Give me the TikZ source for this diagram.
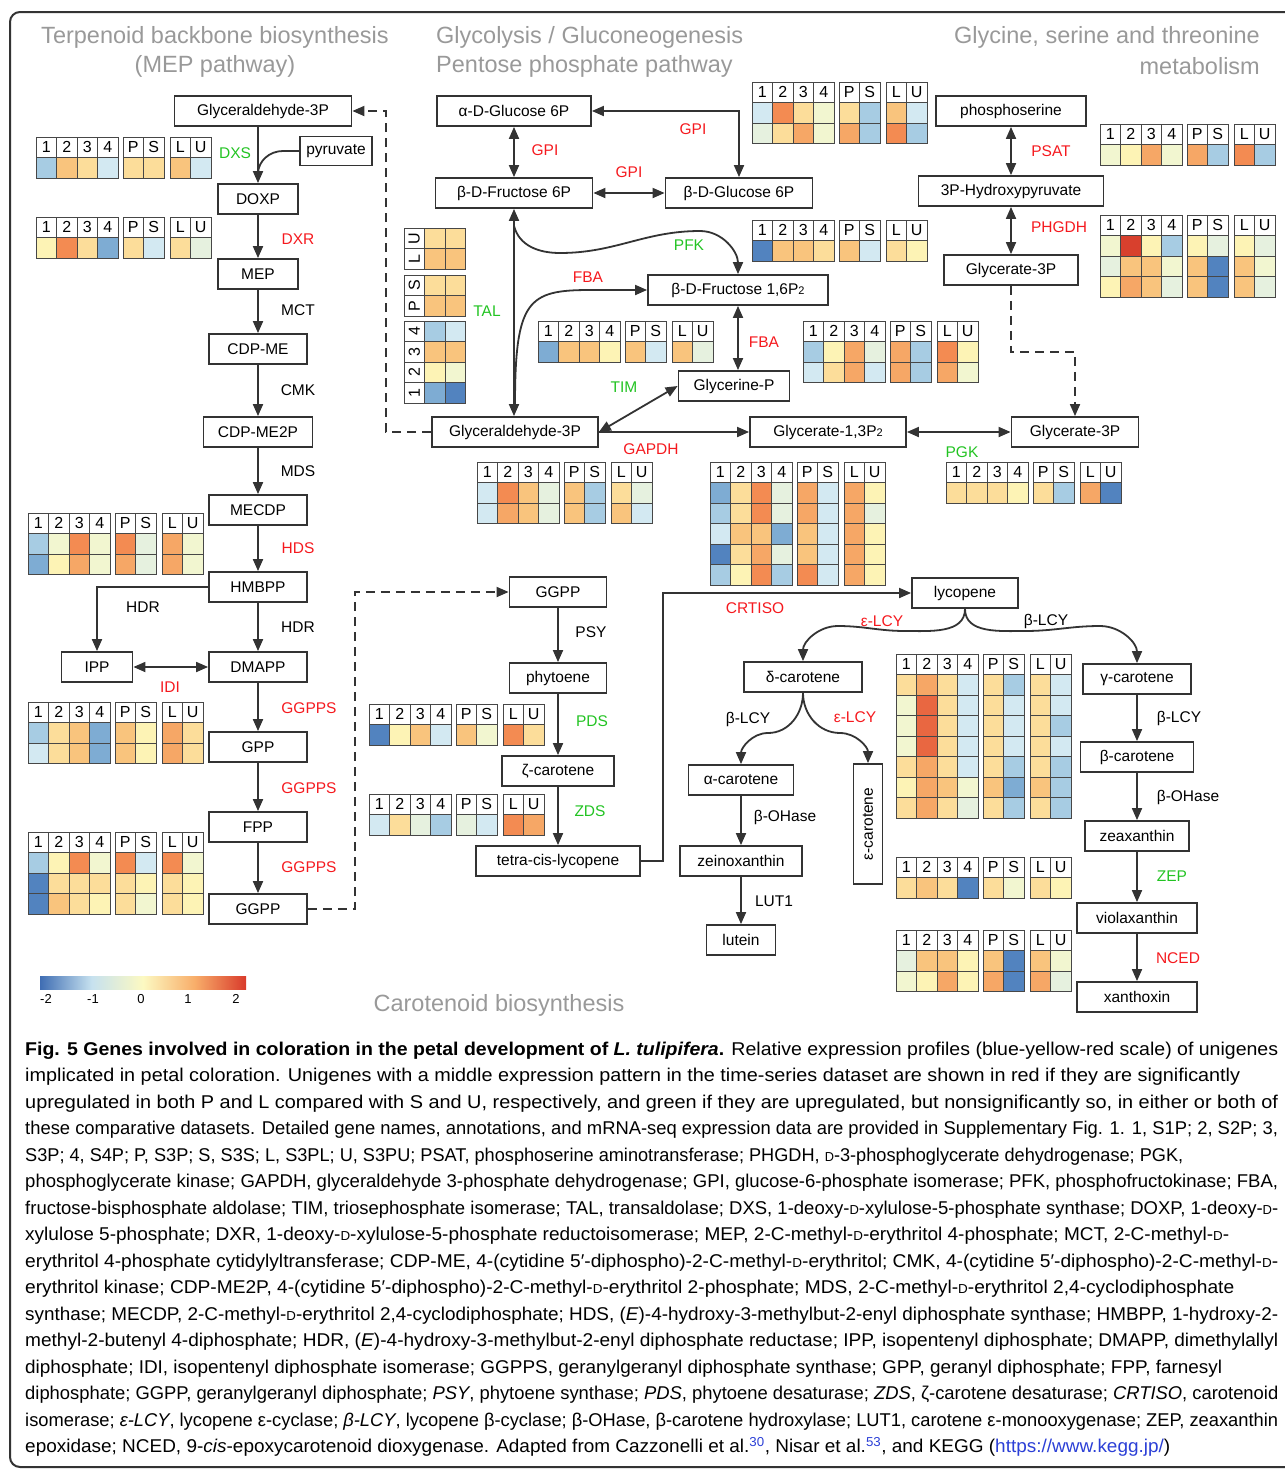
\documentclass[tikz,border=0pt]{standalone}
\usepackage{fontspec}
\setmainfont{Liberation Sans}
\usepackage{graphicx}
\usetikzlibrary{arrows.meta}

\definecolor{colorLine}{HTML}{333333}
\definecolor{colorGrid}{HTML}{474747}
\definecolor{colorTitle}{HTML}{999999}
\definecolor{colorRed}{HTML}{F5191E}
\definecolor{colorGreen}{HTML}{22C322}
\definecolor{colorLink}{HTML}{2B3FD6}
% heat map palette
\definecolor{hmb3}{HTML}{5283BF}
\definecolor{hmb2}{HTML}{7EACD3}
\definecolor{hmb1}{HTML}{A7CCE3}
\definecolor{hmb0}{HTML}{D3E9F2}
\definecolor{hmg0}{HTML}{E6F1DF}
\definecolor{hmy0}{HTML}{F2F6D0}
\definecolor{hmy1}{HTML}{FDF3B5}
\definecolor{hmy2}{HTML}{FCDD9A}
\definecolor{hmo1}{HTML}{F9C47D}
\definecolor{hmo2}{HTML}{F6A766}
\definecolor{hmo3}{HTML}{F38B52}
\definecolor{hmr1}{HTML}{E96741}
\definecolor{hmr2}{HTML}{D8402D}
\definecolor{barA}{HTML}{3F6DB3}
\definecolor{barB}{HTML}{C6E1EF}
\definecolor{barC}{HTML}{FCF9C2}
\definecolor{barD}{HTML}{F8AE6A}
\definecolor{barE}{HTML}{D93A2B}
\pgfdeclarehorizontalshading{heatbar}{100bp}{color(0bp)=(barA); color(25bp)=(barA); color(37.5bp)=(barB); color(50bp)=(barC); color(62.5bp)=(barD); color(75bp)=(barE); color(100bp)=(barE)}

\tikzset{
  metab/.style={draw=colorLine, line width=1.8pt, fill=white, minimum height=30pt, inner sep=2pt, font=\fontsize{15.5}{18}\selectfont},
  enzyme/.style={font=\fontsize{15.5}{18}\selectfont, inner sep=0pt},
  enzRed/.style={enzyme, text=colorRed},
  enzGreen/.style={enzyme, text=colorGreen},
  pathtitle/.style={font=\fontsize{23.5}{26}\selectfont, text=colorTitle, inner sep=0pt},
  link/.style={draw=colorLine, line width=1.8pt},
  dashlink/.style={link, dash pattern=on 9pt off 6pt},
  hmcell/.style={draw=colorGrid, line width=0.9pt},
  hmhead/.style={font=\fontsize{16}{16}\selectfont, inner sep=0pt},
  capline/.style={anchor=base west, inner sep=0pt, font=\fontsize{18.5}{20}\selectfont},
}

\newcommand{\dsc}{{\fontsize{13}{13}\selectfont D}}
\newcommand{\fitline}[2]{\resizebox{#1pt}{\height}{#2}}
% heat map: header 1 2 3 4 | P S | L U, then one row per list
\newcommand{\drawheatmap}[2]{%
  \foreach \hd [count=\k] in {1,2,3,4,P,S,L,U}{
    \pgfmathsetmacro{\hx}{(\k-1)*20.5+5*(\k>4)+6*(\k>6)}
    \draw[hmcell, fill=white] (\hx,0) rectangle ++(20.5,20.5);
    \node[hmhead] (#1-h\k) at (\hx+10.25,10.25) {\hd};
  }
  \foreach \row [count=\r] in {#2}{
    \foreach \c [count=\k] in \row {
      \pgfmathsetmacro{\hx}{(\k-1)*20.5+5*(\k>4)+6*(\k>6)}
      \draw[hmcell, fill=hm\c] (\hx,\r*20.5) rectangle ++(20.5,20.5);
    }
  }
}

\begin{document}
\begin{tikzpicture}[x=1pt, y=-1pt, >={Triangle[length=12pt,width=10pt]}]
\useasboundingbox (0,0) rectangle (1285,1470);
\draw[colorLine, line width=2pt, rounded corners=10pt] (1300,12) -- (10,12) -- (10,1467) -- (1300,1467);

% pathway titles
\node[pathtitle] (tTerp) at (215,37) {Terpenoid backbone biosynthesis};
\node[pathtitle] (tMEP) at (215,66) {(MEP pathway)};
\node[pathtitle, anchor=west] (tGly) at (436,37) {Glycolysis / Gluconeogenesis};
\node[pathtitle, anchor=west] (tPPP) at (436,66) {Pentose phosphate pathway};
\node[pathtitle, anchor=east] (tGST) at (1260,37) {Glycine, serine and threonine};
\node[pathtitle, anchor=east] (tMet) at (1260,66) {metabolism};
\node[pathtitle] (tCar) at (499,1005) {Carotenoid biosynthesis};

% MEP pathway
\node[metab, minimum width=177] (ga3pTop) at (263,111) {Glyceraldehyde-3P};
\node[metab, minimum width=72, minimum height=29] (pyruvate) at (336,151) {pyruvate};
\node[metab, minimum width=80] (doxp) at (258,199) {DOXP};
\node[metab, minimum width=80] (mep) at (258,274) {MEP};
\node[metab, minimum width=98] (cdpme) at (258,349) {CDP-ME};
\node[metab, minimum width=109] (cdpme2p) at (258,432) {CDP-ME2P};
\node[metab, minimum width=98] (mecdp) at (258,510) {MECDP};
\node[metab, minimum width=98] (hmbpp) at (258,587) {HMBPP};
\node[metab, minimum width=71] (ipp) at (97,667) {IPP};
\node[metab, minimum width=98] (dmapp) at (258,667) {DMAPP};
\node[metab, minimum width=98] (gpp) at (258,747) {GPP};
\node[metab, minimum width=98] (fpp) at (258,827) {FPP};
\node[metab, minimum width=98] (ggppL) at (258,909) {GGPP};

% glycolysis / pentose phosphate
\node[metab, minimum width=154] (aG6P) at (514,111) {α-D-Glucose 6P};
\node[metab, minimum width=157] (bF6P) at (514,193) {β-D-Fructose 6P};
\node[metab, minimum width=147] (bG6P) at (739,193) {β-D-Glucose 6P};
\node[metab, minimum width=180] (f16p) at (738,290) {β-D-Fructose 1,6P{\fontsize{11}{11}\selectfont 2}};
\node[metab, minimum width=111] (glyP) at (734,386) {Glycerine-P};
\node[metab, minimum width=166] (ga3p) at (515,432) {Glyceraldehyde-3P};
\node[metab, minimum width=156] (g13p) at (828,432) {Glycerate-1,3P{\fontsize{11}{11}\selectfont 2}};
\node[metab, minimum width=127] (g3pB) at (1075,432) {Glycerate-3P};

% glycine, serine, threonine
\node[metab, minimum width=150] (pSer) at (1011,111) {phosphoserine};
\node[metab, minimum width=185] (hpyr) at (1011,191) {3P-Hydroxypyruvate};
\node[metab, minimum width=134] (g3pA) at (1011,270) {Glycerate-3P};

% carotenoids
\node[metab, minimum width=97] (ggppR) at (558,592) {GGPP};
\node[metab, minimum width=97] (phytoene) at (558,678) {phytoene};
\node[metab, minimum width=112] (zeta) at (558,771) {ζ-carotene};
\node[metab, minimum width=164] (tetra) at (558,861) {tetra-cis-lycopene};
\node[metab, minimum width=106] (lycopene) at (965,593) {lycopene};
\node[metab, minimum width=118] (delta) at (803,677) {δ-carotene};
\node[metab, minimum width=108] (gamma) at (1137,679) {γ-carotene};
\node[metab, minimum width=105] (alpha) at (741,780) {α-carotene};
\node[metab, minimum width=29, minimum height=120, inner sep=0pt] (epsCar) at (868,824) {\rotatebox{90}{ε-carotene}};
\node[metab, minimum width=113] (betaCar) at (1137,757) {β-carotene};
\node[metab, minimum width=122] (zeino) at (741,861) {zeinoxanthin};
\node[metab, minimum width=104] (zeax) at (1137,836) {zeaxanthin};
\node[metab, minimum width=69] (lutein) at (741,940) {lutein};
\node[metab, minimum width=120] (viola) at (1137,918) {violaxanthin};
\node[metab, minimum width=120] (xanthoxin) at (1137,997) {xanthoxin};

% enzyme labels
\node[enzGreen] (lDXS) at (235,153) {DXS};
\node[enzRed] (lDXR) at (298,239) {DXR};
\node[enzyme] (lMCT) at (298,310) {MCT};
\node[enzyme] (lCMK) at (298,390) {CMK};
\node[enzyme] (lMDS) at (298,471) {MDS};
\node[enzRed] (lHDS) at (298,548) {HDS};
\node[enzyme] (lHDRa) at (143,607) {HDR};
\node[enzyme] (lHDRb) at (298,627) {HDR};
\node[enzRed] (lIDI) at (170,687) {IDI};
\node[enzRed] (lGGPPSa) at (309,708) {GGPPS};
\node[enzRed] (lGGPPSb) at (309,788) {GGPPS};
\node[enzRed] (lGGPPSc) at (309,867) {GGPPS};
\node[enzRed] (lGPIa) at (545,150) {GPI};
\node[enzRed] (lGPIb) at (629,172) {GPI};
\node[enzRed] (lGPIc) at (693,129) {GPI};
\node[enzGreen] (lPFK) at (689,245) {PFK};
\node[enzRed] (lFBAa) at (588,277) {FBA};
\node[enzRed] (lFBAb) at (764,342) {FBA};
\node[enzGreen] (lTAL) at (487,311) {TAL};
\node[enzGreen] (lTIM) at (624,387) {TIM};
\node[enzRed] (lGAPDH) at (651,449) {GAPDH};
\node[enzGreen] (lPGK) at (962,452) {PGK};
\node[enzRed] (lPSAT) at (1051,151) {PSAT};
\node[enzRed] (lPHGDH) at (1059,227) {PHGDH};
\node[enzyme] (lPSY) at (591,632) {PSY};
\node[enzGreen] (lPDS) at (592,721) {PDS};
\node[enzGreen] (lZDS) at (590,811) {ZDS};
\node[enzRed] (lCRTISO) at (755,608) {CRTISO};
\node[enzRed] (lELCYa) at (882,621) {ε-LCY};
\node[enzyme] (lBLCYa) at (1046,621) {β-LCY};
\node[enzyme] (lBLCYb) at (748,719) {β-LCY};
\node[enzRed] (lELCYb) at (855,717) {ε-LCY};
\node[enzyme] (lBLCYc) at (1179,718) {β-LCY};
\node[enzyme] (lBOHa) at (785,817) {β-OHase};
\node[enzyme] (lBOHb) at (1188,797) {β-OHase};
\node[enzyme] (lLUT) at (774,901) {LUT1};
\node[enzGreen] (lZEP) at (1172,876) {ZEP};
\node[enzRed] (lNCED) at (1178,958) {NCED};

% MEP connectors
\draw[link,->] (doxp.north |- ga3pTop.south) -- (doxp.north);
\draw[link] (pyruvate.west) -- (283,151) to[out=180,in=90] (258,174);
\draw[link,->] (doxp) -- (mep);
\draw[link,->] (mep) -- (cdpme);
\draw[link,->] (cdpme) -- (cdpme2p);
\draw[link,->] (cdpme2p) -- (mecdp);
\draw[link,->] (mecdp) -- (hmbpp);
\draw[link,->] (hmbpp.west) -| (ipp.north);
\draw[link,->] (hmbpp) -- (dmapp);
\draw[link,<->] (ipp) -- (dmapp);
\draw[link,->] (dmapp) -- (gpp);
\draw[link,->] (gpp) -- (fpp);
\draw[link,->] (fpp) -- (ggppL);
\draw[dashlink,->] (ga3p.west) -- ++(-45,0) |- (ga3pTop.east);
\draw[dashlink,->] (ggppL.east) -- ++(47,0) |- (ggppR.west);

% glycolysis connectors
\coordinate (pfkStart) at (514,226);
\coordinate (fbaStart) at (515,405);
\draw[link,<->] (aG6P) -- (bF6P);
\draw[link,<->] (bF6P) -- (bG6P);
\draw[link,<->] (aG6P.east) -| (bG6P.north);
\draw[link,<->] (bF6P.south) -- (bF6P.south |- ga3p.north);
\draw[link,->] (pfkStart) to[out=-75,in=180] (560,253) to[out=0,in=180] (700,231) to[out=0,in=90] (f16p.north);
\draw[link,->] (fbaStart) .. controls (515,300) and (528,290) .. (590,290) -- (f16p.west);
\draw[link,<->] (f16p.south) -- (f16p.south |- glyP.north);
\draw[link,<->] (ga3p.east) -- (glyP.west);
\draw[link,->] (ga3p) -- (g13p);
\draw[link,<->] (g13p) -- (g3pB);

% glycine connectors
\draw[link,<->] (pSer) -- (hpyr);
\draw[link,<->] (hpyr) -- (g3pA);
\draw[dashlink,->] (g3pA.south) -- ++(0,66) -| (g3pB.north);

% carotenoid connectors
\draw[link,->] (ggppR) -- (phytoene);
\draw[link,->] (phytoene) -- (zeta);
\draw[link,->] (zeta) -- (tetra);
\draw[link,->] (tetra.east) -- ++(22,0) |- (lycopene.west);
\draw[link,->] (lycopene.south) to[out=-90,in=0] (905,631) to[out=180,in=0] (838,626) to[out=180,in=90] (delta.north);
\draw[link,->] (lycopene.south) to[out=-90,in=180] (1025,631) to[out=0,in=180] (1100,626) to[out=0,in=90] (gamma.north);
\draw[link,->] (delta.south) to[out=-90,in=0] (768,733) to[out=180,in=90] (alpha.north);
\draw[link,->] (delta.south) to[out=-90,in=180] (840,733) to[out=0,in=90] (epsCar.north);
\draw[link,->] (alpha) -- (zeino);
\draw[link,->] (zeino) -- (lutein);
\draw[link,->] (gamma) -- (betaCar);
\draw[link,->] (betaCar) -- (zeax);
\draw[link,->] (zeax) -- (viola);
\draw[link,->] (viola) -- (xanthoxin);

% heat maps
\begin{scope}[shift={(36,137)}]\drawheatmap{hmDXS}{{b1,o1,y2,b0,y2,y2,o1,b0}}\end{scope}
\begin{scope}[shift={(36,217)}]\drawheatmap{hmDXR}{{y1,o3,y2,b2,y2,b0,y2,g0}}\end{scope}
\begin{scope}[shift={(752,82)}]\drawheatmap{hmGPI}{{b0,o3,y2,y0,y2,b1,o1,b0},{g0,y2,o2,y0,o2,b1,o3,b1}}\end{scope}
\begin{scope}[shift={(1100,124)}]\drawheatmap{hmPSAT}{{y0,y1,o2,y0,o2,b1,o3,b1}}\end{scope}
\begin{scope}[shift={(752,220)}]\drawheatmap{hmPFK}{{b3,o1,o1,y2,o1,b0,y2,y1}}\end{scope}
\begin{scope}[shift={(1100,215)}]\drawheatmap{hmPHGDH}{{y0,r2,y1,b1,y1,g0,y1,g0},{g0,o1,o1,y0,o1,b3,o1,y0},{y1,o2,o1,g0,o1,b3,o1,g0}}\end{scope}
\begin{scope}[shift={(538,321)}]\drawheatmap{hmFBAa}{{b2,o1,o1,y1,o1,b0,o1,g0}}\end{scope}
\begin{scope}[shift={(803,321)}]\drawheatmap{hmFBAb}{{b1,y1,o2,g0,o2,b1,o3,y1},{b0,y2,o2,b0,o2,b1,o2,y0}}\end{scope}
\begin{scope}[shift={(477,462)}]\drawheatmap{hmGAPDH}{{b0,o3,o1,g0,o1,b1,y2,g0},{b0,o2,o1,g0,o1,b1,o1,b0}}\end{scope}
\begin{scope}[shift={(710,462)}]\drawheatmap{hmG13}{{b2,y2,o3,g0,o2,b0,o2,y1},{b1,y2,o3,g0,o2,b0,o2,g0},{b0,o1,o1,b2,o1,b0,o2,y1},{b3,y2,o2,g0,o1,b0,o2,y1},{b1,y1,o3,b1,o3,b0,o2,y1}}\end{scope}
\begin{scope}[shift={(946,462)}]\drawheatmap{hmPGK}{{y2,y2,y2,y1,y2,b1,o2,b3}}\end{scope}
\begin{scope}[shift={(28,513)}]\drawheatmap{hmHDS}{{b1,y0,o3,y0,o3,g0,o2,y0},{b2,y1,o2,y0,o2,g0,o2,y0}}\end{scope}
\begin{scope}[shift={(28,702)}]\drawheatmap{hmIDI}{{b1,y2,o1,b2,o1,y1,o2,y2},{b0,y2,o1,b2,o1,y1,o2,y2}}\end{scope}
\begin{scope}[shift={(28,832)}]\drawheatmap{hmGGPPS}{{b1,y1,o3,y0,o3,b0,o3,y0},{b3,y2,y2,y2,y2,y1,y2,y1},{b3,o1,y2,y1,y2,y0,y2,y1}}\end{scope}
\begin{scope}[shift={(369,704)}]\drawheatmap{hmPDS}{{b3,y1,o1,b0,o1,y0,o3,y2}}\end{scope}
\begin{scope}[shift={(369,794)}]\drawheatmap{hmZDS}{{b0,y2,g0,b1,g0,b0,o3,o2}}\end{scope}
\begin{scope}[shift={(896,654)}]\drawheatmap{hmLCY}{{y2,o2,y2,b0,y2,b1,y2,b0},{y0,r1,y2,b0,y2,b0,y2,b0},{y0,r1,y2,b0,y2,b0,y2,b1},{y0,r1,y2,b0,y2,b0,y2,b0},{y2,o2,y2,b0,y2,b1,y2,b1},{y1,o2,o1,y0,o1,b2,o1,b1},{y2,o2,y2,g0,y2,b1,y2,b1}}\end{scope}
\begin{scope}[shift={(896,857)}]\drawheatmap{hmZEP}{{y2,o1,y2,b3,y2,y0,y2,y1}}\end{scope}
\begin{scope}[shift={(896,930)}]\drawheatmap{hmNCED}{{g0,o1,o1,y1,o1,b3,o1,y0},{y0,y1,o2,y1,o2,b3,o2,g0}}\end{scope}
\begin{scope}[shift={(404,403)}, rotate=90, transform shape]\drawheatmap{hmTAL}{{b2,y1,o1,b1,o1,y2,o1,y2},{b3,y0,o1,b0,o1,y2,o1,y2}}\end{scope}

% colour scale
\shade[shading=heatbar] (40,976) rectangle (246,989);
\foreach \v/\xp in {-2/46,-1/93,0/141,1/188,2/236}{
  \node[font=\fontsize{13}{13}\selectfont, inner sep=0pt] (scale\v) at (\xp,999) {\v};
}

% caption
\node[capline] (cap1) at (25,1055) {\fitline{1253}{\textbf{Fig. 5 Genes involved in coloration in the petal development of \textit{L. tulipifera}.} Relative expression profiles (blue-yellow-red scale) of unigenes}};
\node[capline] (cap2) at (25,1081.5) {\fitline{1215}{implicated in petal coloration. Unigenes with a middle expression pattern in the time-series dataset are shown in red if they are significantly}};
\node[capline] (cap3) at (25,1108) {\fitline{1253}{upregulated in both P and L compared with S and U, respectively, and green if they are upregulated, but nonsignificantly so, in either or both of}};
\node[capline] (cap4) at (25,1134.5) {\fitline{1253}{these comparative datasets. Detailed gene names, annotations, and mRNA-seq expression data are provided in Supplementary Fig. 1. 1, S1P; 2, S2P; 3,}};
\node[capline] (cap5) at (25,1161) {\fitline{1158}{S3P; 4, S4P; P, S3P; S, S3S; L, S3PL; U, S3PU; PSAT, phosphoserine aminotransferase; PHGDH, \dsc-3-phosphoglycerate dehydrogenase; PGK,}};
\node[capline] (cap6) at (25,1187.5) {\fitline{1253}{phosphoglycerate kinase; GAPDH, glyceraldehyde 3-phosphate dehydrogenase; GPI, glucose-6-phosphate isomerase; PFK, phosphofructokinase; FBA,}};
\node[capline] (cap7) at (25,1214) {\fitline{1253}{fructose-bisphosphate aldolase; TIM, triosephosphate isomerase; TAL, transaldolase; DXS, 1-deoxy-\dsc-xylulose-5-phosphate synthase; DOXP, 1-deoxy-\dsc-}};
\node[capline] (cap8) at (25,1240.5) {\fitline{1204}{xylulose 5-phosphate; DXR, 1-deoxy-\dsc-xylulose-5-phosphate reductoisomerase; MEP, 2-C-methyl-\dsc-erythritol 4-phosphate; MCT, 2-C-methyl-\dsc-}};
\node[capline] (cap9) at (25,1267) {\fitline{1253}{erythritol 4-phosphate cytidylyltransferase; CDP-ME, 4-(cytidine 5′-diphospho)-2-C-methyl-\dsc-erythritol; CMK, 4-(cytidine 5′-diphospho)-2-C-methyl-\dsc-}};
\node[capline] (cap10) at (25,1293.5) {\fitline{1209}{erythritol kinase; CDP-ME2P, 4-(cytidine 5′-diphospho)-2-C-methyl-\dsc-erythritol 2-phosphate; MDS, 2-C-methyl-\dsc-erythritol 2,4-cyclodiphosphate}};
\node[capline] (cap11) at (25,1320) {\fitline{1253}{synthase; MECDP, 2-C-methyl-\dsc-erythritol 2,4-cyclodiphosphate; HDS, (\textit{E})-4-hydroxy-3-methylbut-2-enyl diphosphate synthase; HMBPP, 1-hydroxy-2-}};
\node[capline] (cap12) at (25,1346.5) {\fitline{1253}{methyl-2-butenyl 4-diphosphate; HDR, (\textit{E})-4-hydroxy-3-methylbut-2-enyl diphosphate reductase; IPP, isopentenyl diphosphate; DMAPP, dimethylallyl}};
\node[capline] (cap13) at (25,1373) {\fitline{1197}{diphosphate; IDI, isopentenyl diphosphate isomerase; GGPPS, geranylgeranyl diphosphate synthase; GPP, geranyl diphosphate; FPP, farnesyl}};
\node[capline] (cap14) at (25,1399.5) {\fitline{1253}{diphosphate; GGPP, geranylgeranyl diphosphate; \textit{PSY}, phytoene synthase; \textit{PDS}, phytoene desaturase; \textit{ZDS}, ζ-carotene desaturase; \textit{CRTISO}, carotenoid}};
\node[capline] (cap15) at (25,1426) {\fitline{1253}{isomerase; \textit{ε-LCY}, lycopene ε-cyclase; \textit{β-LCY}, lycopene β-cyclase; β-OHase, β-carotene hydroxylase; LUT1, carotene ε-monooxygenase; ZEP, zeaxanthin}};
\node[capline] (cap16) at (25,1452.5) {\fitline{1145}{epoxidase; NCED, 9-\textit{cis}-epoxycarotenoid dioxygenase. Adapted from Cazzonelli et al.\textsuperscript{\textcolor{colorLink}{30}}, Nisar et al.\textsuperscript{\textcolor{colorLink}{53}}, and KEGG (\textcolor{colorLink}{https://www.kegg.jp/})}};
\end{tikzpicture}
\end{document}
